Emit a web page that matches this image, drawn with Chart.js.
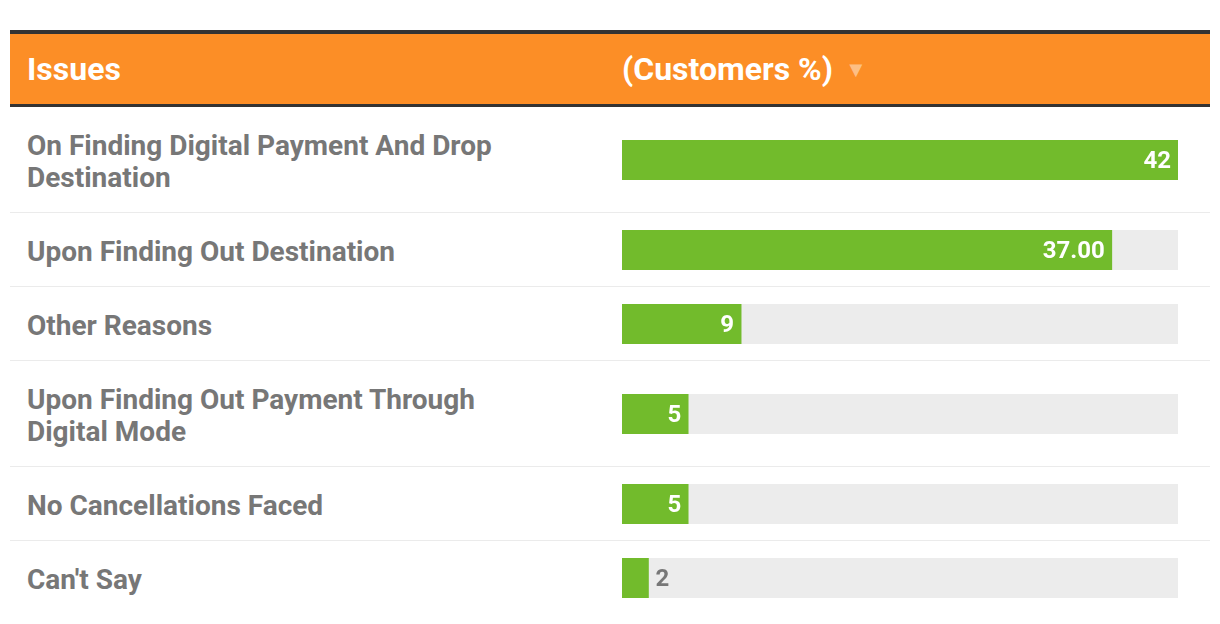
<!DOCTYPE html>
<html lang="en">
<head>
    <meta charset="UTF-8">
    <title>Cancellation Issues</title>
    <script src="https://cdn.jsdelivr.net/npm/chart.js"></script>
    <style>
        body {
            margin: 0;
            background: #fff;
            font-family: Roboto, Arial, sans-serif;
        }
        .table {
            position: absolute;
            left: 10px;
            top: 30px;
            width: 1200px;
        }
        .head {
            display: flex;
            align-items: center;
            height: 70px;
            background: #fc8e26;
            border-top: 4px solid #333;
            border-bottom: 3px solid #333;
            color: #fff;
            font-weight: bold;
            font-size: 32px;
        }
        .head .c1 {
            width: 595px;
            padding-left: 17px;
        }
        .head .arrow {
            color: rgba(255, 255, 255, 0.45);
            font-size: 22px;
            margin-left: 12px;
            vertical-align: 3px;
        }
        .row {
            display: flex;
            align-items: center;
            border-bottom: 1px solid #ebebeb;
            padding: 17px 0 16px 0;
        }
        .row:last-child {
            border-bottom: none;
        }
        .label {
            width: 500px;
            margin-right: 95px;
            padding: 6px 0 2px 17px;
            color: #777;
            font-weight: bold;
            font-size: 28px;
            line-height: 32px;
        }
        .bar {
            position: relative;
            width: 556px;
            height: 40px;
        }
    </style>
</head>
<body>
    <div class="table" id="table">
        <div class="head">
            <div class="c1">Issues</div>
            <div>(Customers %)<span class="arrow">&#9660;</span></div>
        </div>
    </div>

    <script>
        const issues = [
            "On Finding Digital Payment And Drop Destination",
            "Upon Finding Out Destination",
            "Other Reasons",
            "Upon Finding Out Payment Through Digital Mode",
            "No Cancellations Faced",
            "Can't Say"
        ];
        const customers = [42, 37, 9, 5, 5, 2];
        const valueLabels = ["42", "37.00", "9", "5", "5", "2"];
        const scaleMax = 42;

        const green = '#72bb2c';
        const track = '#ececec';

        // value text at the end of each bar, outside it if the bar is too short
        const valueText = {
            id: 'valueText',
            afterDatasetsDraw(chart) {
                const ctx = chart.ctx;
                const bar = chart.getDatasetMeta(0).data[0];
                const text = chart.options.plugins.valueText.label;
                ctx.save();
                ctx.font = 'bold 24px Roboto';
                ctx.textBaseline = 'middle';
                const w = ctx.measureText(text).width;
                const width = bar.x - bar.base;
                if (width > w + 14) {
                    ctx.fillStyle = '#fff';
                    ctx.textAlign = 'right';
                    ctx.fillText(text, bar.x - 7, bar.y + 2);
                } else {
                    ctx.fillStyle = '#777';
                    ctx.textAlign = 'left';
                    ctx.fillText(text, bar.x + 7, bar.y + 2);
                }
                ctx.restore();
            }
        };

        const table = document.getElementById('table');

        issues.forEach((issue, i) => {
            const row = document.createElement('div');
            row.className = 'row';
            const label = document.createElement('div');
            label.className = 'label';
            label.textContent = issue;
            const box = document.createElement('div');
            box.className = 'bar';
            const canvas = document.createElement('canvas');
            box.appendChild(canvas);
            row.appendChild(label);
            row.appendChild(box);
            table.appendChild(row);

            new Chart(canvas, {
                type: 'bar',
                data: {
                    labels: [issue],
                    datasets: [
                        { data: [customers[i]], backgroundColor: green },
                        { data: [scaleMax], backgroundColor: track }
                    ]
                },
                options: {
                    indexAxis: 'y',
                    responsive: true,
                    maintainAspectRatio: false,
                    animation: false,
                    layout: { padding: 0 },
                    datasets: {
                        bar: {
                            grouped: false,
                            barPercentage: 1,
                            categoryPercentage: 1,
                            borderWidth: 0
                        }
                    },
                    scales: {
                        x: { display: false, min: 0, max: scaleMax },
                        y: { display: false }
                    },
                    plugins: {
                        legend: { display: false },
                        tooltip: { enabled: false },
                        valueText: { label: valueLabels[i] }
                    }
                },
                plugins: [valueText]
            });
        });
    </script>
</body>
</html>
